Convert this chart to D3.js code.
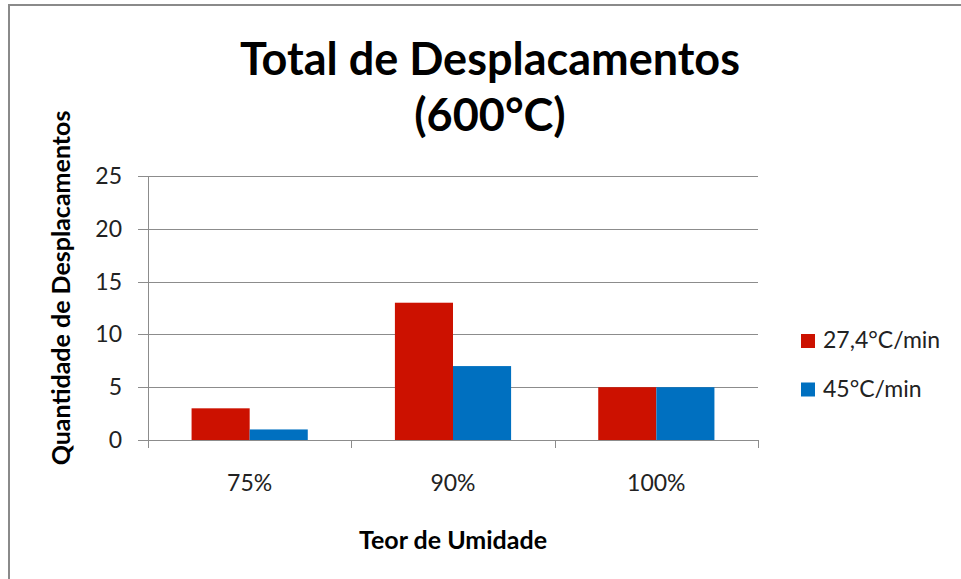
<!DOCTYPE html>
<html>
<head>
<meta charset="utf-8">
<script src="https://cdn.jsdelivr.net/npm/d3@7"></script>
<style>
  body { margin: 0; background: #fff; }
  svg { display: block; font-family: Lato, "Open Sans", sans-serif; }
</style>
</head>
<body>
<script>
"use strict";
// chart data
var categories = ["75%", "90%", "100%"];
var seriesNames = ["27,4°C/min", "45°C/min"];
var seriesColors = ["#CC1100", "#0070C0"];
var values27 = [3, 13, 5];
var values45 = [1, 7, 5];
var yTicks = [0, 5, 10, 15, 20, 25];

var width = 961, height = 579;
var plotLeft = 148, plotRight = 758, plotTop = 176, plotBottom = 440;

var svg = d3.select("body").append("svg")
  .attr("width", width)
  .attr("height", height);

// outer frame (cut off at right / bottom)
svg.append("rect")
  .attr("x", 9).attr("y", 5)
  .attr("width", width + 20).attr("height", height + 20)
  .attr("fill", "#fff")
  .attr("stroke", "#8a8a8a")
  .attr("stroke-width", 2);

var x = d3.scaleBand().domain(categories).range([plotLeft, plotRight]);
var y = d3.scaleLinear().domain([0, 25]).range([plotBottom, plotTop]);
// excel gap width 150%: group = 2 bars, gap = 1.5 bar
var barW = x.bandwidth() / 3.5;

// gridlines
svg.append("g").selectAll("line").data(yTicks).enter().append("line")
  .attr("x1", plotLeft - 10).attr("x2", plotRight)
  .attr("y1", function(d) { return Math.round(y(d)) + 0.5; })
  .attr("y2", function(d) { return Math.round(y(d)) + 0.5; })
  .attr("stroke", "#8c8c8c").attr("stroke-width", 1);

// y axis line
svg.append("line")
  .attr("x1", plotLeft + 0.5).attr("x2", plotLeft + 0.5)
  .attr("y1", plotTop).attr("y2", plotBottom + 8)
  .attr("stroke", "#8c8c8c");

// x category ticks
var bounds = categories.map(function(c) { return x(c); }).concat([plotRight]);
svg.append("g").selectAll("line").data(bounds).enter().append("line")
  .attr("x1", function(d) { return Math.round(d) + 0.5; })
  .attr("x2", function(d) { return Math.round(d) + 0.5; })
  .attr("y1", plotBottom).attr("y2", plotBottom + 8)
  .attr("stroke", "#8c8c8c");

// y tick labels
svg.append("g").selectAll("text").data(yTicks).enter().append("text")
  .attr("x", 122)
  .attr("y", function(d) { return y(d) + 8; })
  .attr("text-anchor", "end")
  .attr("font-size", 23)
  .attr("fill", "#222")
  .text(function(d) { return d; });

// bars
var series = [values27, values45];
series.forEach(function(vals, s) {
  svg.append("g").selectAll("rect").data(vals).enter().append("rect")
    .attr("x", function(d, i) { return x(categories[i]) + barW * (0.75 + s); })
    .attr("y", function(d) { return y(d); })
    .attr("width", barW)
    .attr("height", function(d) { return y(0) - y(d); })
    .attr("fill", seriesColors[s]);
});

// x tick labels
svg.append("g").selectAll("text").data(categories).enter().append("text")
  .attr("x", function(d) { return x(d) + x.bandwidth() / 2; })
  .attr("y", 491)
  .attr("text-anchor", "middle")
  .attr("font-size", 23)
  .attr("fill", "#222")
  .text(function(d) { return d; });

// axis titles
svg.append("text")
  .attr("x", (plotLeft + plotRight) / 2).attr("y", 549)
  .attr("text-anchor", "middle")
  .attr("font-size", 25).attr("font-weight", "bold")
  .text("Teor de Umidade");

svg.append("text")
  .attr("transform", "translate(70,288) rotate(-90)")
  .attr("text-anchor", "middle")
  .attr("font-size", 25).attr("font-weight", "bold")
  .text("Quantidade de Desplacamentos");

// title
var title = svg.append("text")
  .attr("text-anchor", "middle")
  .attr("font-size", 45).attr("font-weight", "bold");
title.append("tspan").attr("x", 490).attr("y", 75).text("Total de Desplacamentos");
title.append("tspan").attr("x", 490).attr("y", 131).text("(600°C)");

// legend
var legend = svg.append("g").selectAll("g").data(seriesNames).enter().append("g")
  .attr("transform", function(d, i) { return "translate(801," + (334 + i * 48.5) + ")"; });
legend.append("rect")
  .attr("width", 14).attr("height", 14)
  .attr("fill", function(d, i) { return seriesColors[i]; });
legend.append("text")
  .attr("x", 22).attr("y", 14)
  .attr("font-size", 23)
  .attr("fill", "#222")
  .text(function(d) { return d; });
</script>
</body>
</html>
